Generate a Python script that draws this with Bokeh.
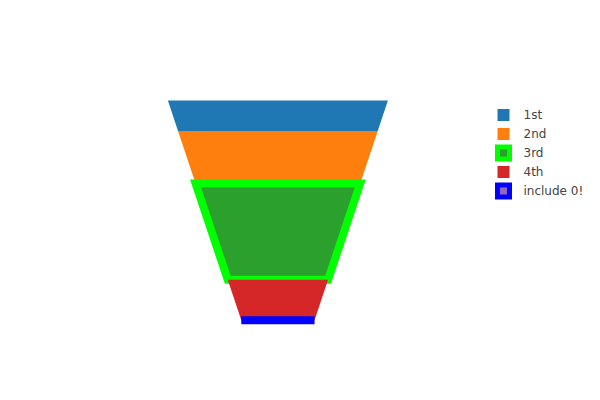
import numpy as np
from bokeh.plotting import figure, ColumnDataSource
from bokeh.models import Range1d
from bokeh.core.properties import value
from bokeh.embed import file_html
from bokeh.resources import INLINE

# funnel area data (plotly-like default colorway)
labels = ['1st', '2nd', '3rd', '4th', 'include 0!']
values = [2, 3, 4, 1.1, 0]
fill_colors = ['#1f77b4', '#ff7f0e', '#2ca02c', '#d62728', '#9467bd']
line_colors = ['#ffffff', '#ffffff', '#00ff00', '#ffffff', '#0000ff']
line_widths = [0, 0, 8, 0, 8]

# ------------------------
W, H = 584, 384          # page is 600x400 with 8px margin
cx = 277.4               # funnel centre
top_y = 100
top_w = 220.0
funnel_h = 219.8
baseratio = 0.333


def funnel_patches(vals):
    ############################################################
    # area of each slice proportional to its value (truncated triangle)
    D = funnel_h/(1 - baseratio)
    d_top2, d_bot2 = D**2, (D*baseratio)**2
    frac = np.concatenate([[0], np.cumsum(vals)])/np.sum(vals)
    d = np.sqrt(d_top2 - frac*(d_top2 - d_bot2))
    y = top_y + (D - d)
    hw = top_w/2*d/D
    xs, ys = [], []
    for i in range(len(vals)):
        xs.append([cx - hw[i], cx + hw[i], cx + hw[i+1], cx - hw[i+1]])
        ys.append([y[i], y[i], y[i+1], y[i+1]])
    return xs, ys


xs, ys = funnel_patches(values)
source = ColumnDataSource(data=dict(xs=xs, ys=ys, fill=fill_colors, line=line_colors,
                                    lw=line_widths, la=[1 if w > 0 else 0 for w in line_widths],
                                    label=labels))

p = figure(width=W, height=H, x_range=Range1d(0, W), y_range=Range1d(H, 0),
           x_axis_location=None, y_axis_location=None, min_border=0,
           toolbar_location=None, output_backend='svg')
p.grid.visible = False
p.outline_line_color = None
p.background_fill_color = 'white'
p.border_fill_color = 'white'

p.patches('xs', 'ys', source=source, fill_color='fill', line_color='line',
          line_width='lw', line_alpha='la', line_join='miter')

# ------------------------ legend (drawn by hand, plotly style)
leg_x = 503
leg_y0 = 114.5
leg_dy = 19
leg_lw = [min(w, 5) for w in line_widths]
leg = ColumnDataSource(data=dict(x=[leg_x]*len(labels),
                                 y=[leg_y0 + k*leg_dy for k in range(len(labels))],
                                 tx=[leg_x + 20]*len(labels),
                                 fill=fill_colors, line=line_colors, lw=leg_lw,
                                 la=[1 if w > 0 else 0 for w in leg_lw], label=labels))
p.rect(x='x', y='y', width=12, height=12, width_units='screen', height_units='screen',
       source=leg, fill_color='fill', line_color='line', line_width='lw', line_alpha='la',
       line_join='miter')
p.text(x='tx', y='y', text='label', source=leg, text_font=value('DejaVu Sans'),
       text_font_size='12px', text_color='#444444', text_baseline='middle', text_align='left')

open('out.html', 'w').write(file_html(p, INLINE))
